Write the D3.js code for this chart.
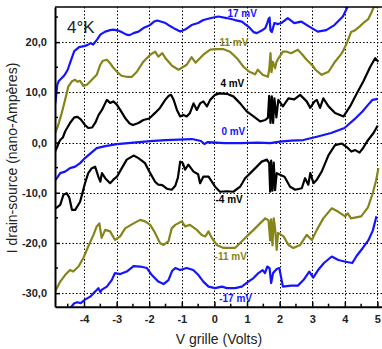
<!DOCTYPE html>
<html>
<head>
<meta charset="utf-8">
<script src="https://cdn.jsdelivr.net/npm/d3@7"></script>
<style>
body { margin: 0; background: #fff; }
svg { display: block; font-family: Arial, "Liberation Sans", sans-serif; }
</style>
</head>
<body>
<svg width="382" height="349"></svg>
<script>
// gate voltage (V) / drain-source current (nA)
var curve_p17 = [[-4.88,7.8],[-4.82,11.5],[-4.78,12.2],[-4.6,13.4],[-4.5,14.5],[-4.43,15.8],[-4.3,18.2],[-4.15,19.0],[-4.0,19.2],[-3.9,19.4],[-3.8,19.8],[-3.72,19.5],[-3.6,20.5],[-3.5,21.5],[-3.35,22.1],[-3.2,22.4],[-3.1,22.5],[-2.95,22.3],[-2.85,22.0],[-2.7,21.5],[-2.6,21.4],[-2.48,21.8],[-2.33,22.1],[-2.18,22.8],[-2.0,23.3],[-1.85,24.1],[-1.75,24.3],[-1.6,24.0],[-1.5,23.8],[-1.36,23.2],[-1.2,22.6],[-1.05,22.1],[-0.9,22.5],[-0.7,23.4],[-0.5,23.8],[-0.34,24.4],[-0.1,24.8],[0.12,25.1],[0.38,24.8],[0.63,24.4],[0.84,24.1],[1.04,23.1],[1.2,22.0],[1.3,21.8],[1.45,22.3],[1.56,22.8],[1.62,23.8],[1.66,24.6],[1.69,24.9],[1.72,22.3],[1.76,22.0],[1.84,23.8],[1.95,23.6],[2.05,23.8],[2.25,24.8],[2.45,23.8],[2.66,24.1],[2.91,23.1],[3.17,22.1],[3.43,22.4],[3.68,23.4],[3.94,25.1],[4.09,27.1],[4.3,30]];
var curve_p11 = [[-4.88,2.0],[-4.8,3.3],[-4.7,5.5],[-4.58,8.5],[-4.48,11.2],[-4.37,12.2],[-4.27,12.5],[-4.2,12.1],[-4.12,12.3],[-4.02,11.3],[-3.91,11.5],[-3.76,12.5],[-3.61,13.5],[-3.5,15.5],[-3.42,16.3],[-3.3,16.5],[-3.2,15.8],[-3.1,14.9],[-2.99,14.1],[-2.85,13.3],[-2.7,13.1],[-2.53,13.1],[-2.38,14.1],[-2.18,16.1],[-1.97,17.5],[-1.82,18.1],[-1.72,17.1],[-1.6,17.8],[-1.5,16.8],[-1.3,15.3],[-1.1,14.5],[-1.0,14.9],[-0.85,15.5],[-0.7,17.0],[-0.58,15.9],[-0.49,16.5],[-0.34,17.5],[-0.13,18.5],[0.02,18.6],[0.28,18.6],[0.48,18.1],[0.69,16.8],[0.89,15.1],[1.07,14.1],[1.25,13.6],[1.33,14.5],[1.48,13.5],[1.64,13.1],[1.68,14.5],[1.72,17.8],[1.75,14.0],[1.79,16.1],[1.86,14.8],[1.9,16.0],[1.94,16.5],[2.1,18.1],[2.22,18.1],[2.35,17.8],[2.56,18.5],[2.7,17.5],[2.83,16.5],[3.0,15.4],[3.1,14.5],[3.29,13.5],[3.5,14.1],[3.7,16.1],[3.91,17.8],[4.06,19.8],[4.19,22.0],[4.3,22.3],[4.45,23.1],[4.6,24.0],[4.72,24.6],[4.81,25.8],[4.88,26.9],[5.03,27.2]];
var curve_p4 = [[-4.89,-1.8],[-4.83,-1.0],[-4.78,-0.1],[-4.73,0.5],[-4.65,1.0],[-4.58,2.2],[-4.43,3.9],[-4.3,5.0],[-4.2,5.1],[-4.1,4.6],[-3.97,3.5],[-3.87,2.9],[-3.75,3.0],[-3.65,4.0],[-3.55,5.5],[-3.45,6.5],[-3.3,8.5],[-3.2,7.9],[-3.1,8.2],[-3.0,7.6],[-2.89,6.5],[-2.74,4.9],[-2.6,3.8],[-2.5,3.5],[-2.33,3.9],[-2.18,4.5],[-2.0,4.8],[-1.82,5.9],[-1.67,6.9],[-1.51,8.5],[-1.4,9.3],[-1.33,9.5],[-1.25,8.5],[-1.15,6.5],[-1.05,5.2],[-0.95,5.5],[-0.85,5.2],[-0.75,5.9],[-0.64,7.8],[-0.54,6.5],[-0.44,7.8],[-0.34,8.2],[-0.23,7.2],[-0.13,8.5],[0.02,9.5],[0.15,9.8],[0.38,9.7],[0.58,9.2],[0.79,7.8],[0.99,6.2],[1.2,5.2],[1.4,4.2],[1.56,4.5],[1.64,4.9],[1.68,9.3],[1.72,3.9],[1.76,9.2],[1.8,3.9],[1.84,8.8],[1.9,5.0],[1.96,8.5],[2.1,7.2],[2.27,8.8],[2.45,8.6],[2.63,9.5],[2.83,8.2],[2.94,6.9],[3.07,8.2],[3.14,8.5],[3.24,6.9],[3.34,8.8],[3.5,7.2],[3.7,5.9],[3.96,5.2],[4.16,7.2],[4.37,9.8],[4.57,12.2],[4.78,15.1],[4.93,16.8],[5.03,16.1]];
var curve_0 = [[-4.88,-7.5],[-4.8,-6.8],[-4.73,-6.1],[-4.58,-5.8],[-4.43,-5.1],[-4.27,-4.8],[-4.12,-4.1],[-3.97,-3.1],[-3.81,-2.2],[-3.61,-1.1],[-3.35,-0.7],[-2.99,-0.3],[-2.48,0.0],[-1.97,0.3],[-1.5,0.5],[-0.69,0.7],[-0.41,0.3],[-0.31,-0.3],[-0.2,0.1],[0.31,-0.1],[0.8,-0.1],[1.33,0.0],[1.71,-0.1],[2.01,0.2],[2.35,0.4],[2.73,0.5],[3.17,1.2],[3.58,1.9],[3.99,2.9],[4.29,4.6],[4.54,6.2],[4.75,7.8],[4.85,8.5],[5.01,8.7]];
var curve_m4 = [[-4.87,-13.1],[-4.73,-12.4],[-4.63,-10.4],[-4.53,-10.1],[-4.45,-11.0],[-4.37,-13.4],[-4.27,-13.4],[-4.12,-11.8],[-3.97,-8.1],[-3.87,-6.1],[-3.76,-5.1],[-3.66,-4.8],[-3.56,-6.8],[-3.5,-7.8],[-3.45,-6.1],[-3.35,-7.1],[-3.2,-8.1],[-3.1,-7.4],[-2.99,-6.8],[-2.84,-5.1],[-2.69,-3.4],[-2.48,-2.6],[-2.33,-3.1],[-2.13,-4.1],[-1.97,-6.1],[-1.82,-7.8],[-1.72,-8.4],[-1.6,-8.5],[-1.46,-9.2],[-1.31,-9.4],[-1.2,-8.6],[-1.12,-7.0],[-1.05,-3.8],[-0.97,-4.1],[-0.9,-5.4],[-0.8,-4.4],[-0.64,-5.8],[-0.5,-6.3],[-0.44,-8.1],[-0.34,-6.8],[-0.18,-6.8],[0.02,-8.8],[0.17,-9.8],[0.38,-9.7],[0.58,-9.8],[0.79,-8.8],[0.94,-7.1],[1.1,-6.1],[1.3,-4.8],[1.45,-3.8],[1.61,-3.4],[1.68,-4.1],[1.71,-9.8],[1.74,-3.6],[1.78,-9.6],[1.82,-4.0],[1.86,-9.5],[1.91,-6.1],[2.01,-6.4],[2.15,-6.8],[2.32,-8.8],[2.48,-9.4],[2.68,-9.1],[2.78,-7.1],[2.88,-8.4],[2.94,-6.1],[3.04,-8.1],[3.14,-7.4],[3.29,-5.8],[3.5,-2.5],[3.7,-0.5],[3.91,-0.2],[4.06,-0.9],[4.2,-1.8],[4.32,-1.5],[4.45,-2.0],[4.55,-1.2],[4.68,0.2],[4.88,1.9],[5.01,3.4]];
var curve_m11 = [[-4.89,-29.7],[-4.73,-27.7],[-4.58,-26.4],[-4.43,-25.4],[-4.33,-25.7],[-4.17,-24.7],[-4.02,-23.0],[-3.87,-20.7],[-3.71,-18.4],[-3.61,-16.7],[-3.53,-16.1],[-3.46,-19.0],[-3.35,-17.4],[-3.2,-17.7],[-3.05,-19.4],[-2.89,-18.7],[-2.74,-17.1],[-2.48,-16.1],[-2.28,-15.4],[-2.13,-15.7],[-1.97,-16.4],[-1.82,-18.0],[-1.67,-20.0],[-1.56,-20.4],[-1.41,-19.7],[-1.31,-17.1],[-1.2,-16.4],[-1.0,-15.7],[-0.9,-16.7],[-0.75,-16.4],[-0.54,-17.4],[-0.39,-18.4],[-0.28,-18.7],[-0.18,-17.7],[-0.08,-19.0],[0.07,-20.4],[0.28,-21.0],[0.48,-21.0],[0.63,-21.0],[0.79,-20.0],[0.99,-18.7],[1.2,-17.4],[1.4,-16.1],[1.56,-15.1],[1.66,-15.5],[1.71,-19.5],[1.74,-15.3],[1.78,-20.5],[1.82,-15.1],[1.86,-17.0],[1.91,-21.4],[1.95,-18.0],[2.12,-18.7],[2.27,-20.4],[2.42,-21.0],[2.63,-20.4],[2.83,-18.4],[2.99,-19.4],[3.14,-17.4],[3.34,-15.1],[3.6,-13.1],[3.8,-13.8],[4.01,-14.7],[4.09,-14.1],[4.19,-15.1],[4.5,-14.7],[4.71,-12.9],[4.86,-10.0],[4.96,-7.5],[5.03,-5.1]];
var curve_m17 = [[-4.6,-35],[-4.4,-32.8],[-4.3,-32.0],[-4.2,-31.8],[-4.1,-32.0],[-3.97,-31.3],[-3.81,-30.7],[-3.66,-29.7],[-3.56,-29.0],[-3.5,-29.8],[-3.45,-29.3],[-3.3,-28.7],[-3.15,-27.4],[-3.05,-26.0],[-2.89,-26.2],[-2.69,-25.7],[-2.48,-24.6],[-2.28,-24.7],[-2.07,-25.0],[-1.92,-26.4],[-1.72,-27.7],[-1.56,-28.2],[-1.41,-27.4],[-1.3,-25.6],[-1.2,-25.0],[-1.05,-25.4],[-0.85,-25.0],[-0.65,-25.4],[-0.49,-26.4],[-0.34,-27.7],[-0.18,-28.7],[0.02,-29.0],[0.23,-28.7],[0.38,-29.0],[0.63,-29.0],[0.84,-28.7],[1.04,-27.7],[1.2,-27.0],[1.35,-26.0],[1.48,-25.4],[1.55,-26.0],[1.62,-24.7],[1.69,-25.0],[1.74,-28.0],[1.8,-26.0],[1.91,-25.2],[1.99,-25.0],[2.1,-28.7],[2.35,-28.5],[2.56,-28.5],[2.73,-27.4],[2.91,-25.7],[3.03,-26.9],[3.18,-25.4],[3.36,-24.0],[3.6,-22.7],[3.8,-23.4],[3.99,-23.7],[4.23,-24.0],[4.36,-22.6],[4.55,-21.0],[4.72,-19.5],[4.86,-17.5],[4.97,-14.7]];

var curve_names = ["17 mV", "11 mV", "4 mV", "0 mV", "-4 mV", "-11 mV", "-17 mV"];
var x_ticks = [-4, -3, -2, -1, 0, 1, 2, 3, 4, 5];
var y_ticks = [-30, -20, -10, 0, 10, 20];

var svg = d3.select("svg"),
	pLeft = 55, pRight = 382, pTop = 7, pBottom = 306.7;

var x = d3.scaleLinear().domain([-4.89, 5.14]).range([pLeft, pRight]);
var y = d3.scaleLinear().domain([-32.7, 27.0]).range([pBottom, pTop]);

var blue = "#1414ff", olive = "#85851a", black = "#000";
var curves = [
	{pts: curve_p17, color: blue, lv: 0.85, li: 25.0},
	{pts: curve_p11, color: olive, lv: 0.6, li: 19.2},
	{pts: curve_p4, color: black, lv: 0.55, li: 11.0},
	{pts: curve_0, color: blue, lv: 0.58, li: 1.5},
	{pts: curve_m4, color: black, lv: 0.45, li: -12.1},
	{pts: curve_m11, color: olive, lv: 0.5, li: -23.4},
	{pts: curve_m17, color: blue, lv: 0.65, li: -31.8}
];

svg.append("clipPath").attr("id", "plotclip")
	.append("rect")
	.attr("x", pLeft).attr("y", pTop)
	.attr("width", pRight - pLeft).attr("height", pBottom - pTop);

// dotted grid
var grid = svg.append("g")
	.attr("stroke", "#000")
	.attr("stroke-width", 1)
	.attr("stroke-dasharray", "1.5,2");
grid.selectAll(".gx").data(x_ticks).enter().append("line")
	.attr("x1", function(d) { return Math.round(x(d)) + 0.5; })
	.attr("x2", function(d) { return Math.round(x(d)) + 0.5; })
	.attr("y1", pTop).attr("y2", pBottom);
grid.selectAll(".gy").data(y_ticks).enter().append("line")
	.attr("y1", function(d) { return Math.round(y(d)) + 0.5; })
	.attr("y2", function(d) { return Math.round(y(d)) + 0.5; })
	.attr("x1", pLeft).attr("x2", pRight);

var line = d3.line()
	.x(function(d) { return x(d[0]); })
	.y(function(d) { return y(d[1]); });

var plot = svg.append("g").attr("clip-path", "url(#plotclip)");
plot.selectAll("path.curve").data(curves).enter().append("path")
	.attr("class", "curve")
	.attr("fill", "none")
	.attr("stroke", function(d) { return d.color; })
	.attr("stroke-width", 2.2)
	.attr("stroke-linejoin", "round")
	.attr("d", function(d) { return line(d.pts); });

svg.selectAll("text.clabel").data(curves).enter().append("text")
	.attr("class", "clabel")
	.attr("x", function(d) { return x(d.lv); })
	.attr("y", function(d) { return y(d.li); })
	.attr("text-anchor", "middle")
	.attr("fill", function(d) { return d.color; })
	.style("font-size", "10px")
	.style("font-weight", "bold")
	.text(function(d, i) { return curve_names[i]; });

// axes, ticks inward
var fmt = function(d) { return d3.format(".1f")(d).replace(".", ",").replace("−", "-"); };

var xAxis = svg.append("g")
	.attr("transform", "translate(0," + pBottom + ")")
	.call(d3.axisBottom(x).tickValues(x_ticks).tickSizeInner(-5).tickSizeOuter(0).tickPadding(9).tickFormat(function(d) { return d3.format("d")(d).replace("−", "-"); }));
xAxis.append("g").selectAll("line").data(d3.range(-4.5, 5, 1)).enter().append("line")
	.attr("x1", function(d) { return x(d); }).attr("x2", function(d) { return x(d); })
	.attr("y1", 0).attr("y2", -3).attr("stroke", "#000").attr("stroke-width", 1.5);

var yAxis = svg.append("g")
	.attr("transform", "translate(" + pLeft + ",0)")
	.call(d3.axisLeft(y).tickValues(y_ticks).tickSizeInner(-5).tickSizeOuter(0).tickPadding(8).tickFormat(fmt));
yAxis.append("g").selectAll("line").data([-25, -15, -5, 5, 15, 25]).enter().append("line")
	.attr("y1", function(d) { return y(d); }).attr("y2", function(d) { return y(d); })
	.attr("x1", 0).attr("x2", 3).attr("stroke", "#000").attr("stroke-width", 1.5);

[xAxis, yAxis].forEach(function(a) {
	a.select(".domain").attr("stroke-width", 2);
	a.selectAll(".tick line").attr("stroke-width", 1.5);
	a.selectAll("text")
		.style("font-family", "Arial, 'Liberation Sans', sans-serif")
		.style("font-size", "11px")
		.style("font-weight", "bold")
		.attr("fill", "#222");
});

svg.append("line")
	.attr("x1", pLeft).attr("x2", pRight)
	.attr("y1", pTop).attr("y2", pTop)
	.attr("stroke", "#000").attr("stroke-width", 1.5);

svg.append("text")
	.attr("x", 67).attr("y", 33)
	.style("font-size", "17px")
	.attr("fill", "#222")
	.text("4°K");

svg.append("text")
	.attr("x", 219).attr("y", 344)
	.attr("text-anchor", "middle")
	.style("font-size", "14px")
	.attr("fill", "#222")
	.text("V grille (Volts)");

svg.append("text")
	.attr("transform", "translate(17," + 158 + ") rotate(-90)")
	.attr("text-anchor", "middle")
	.style("font-size", "14px")
	.attr("fill", "#222")
	.text("I drain-source  (nano-Ampères)");
</script>
</body>
</html>
